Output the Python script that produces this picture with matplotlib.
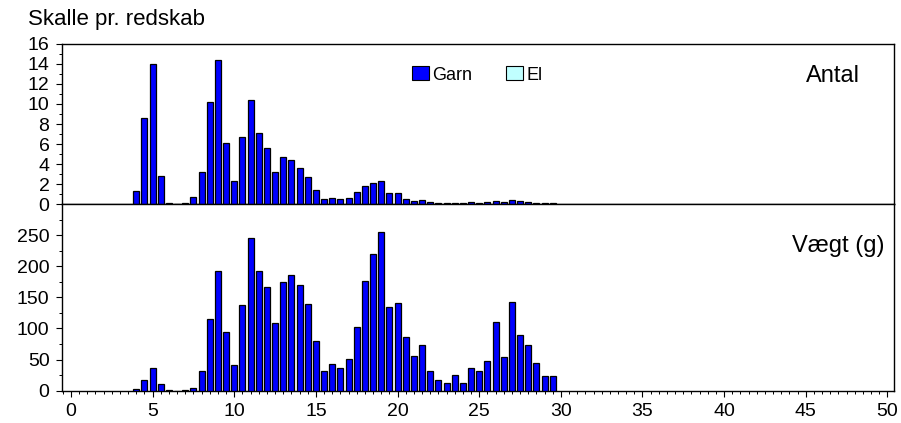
import matplotlib
matplotlib.use("Agg")
import matplotlib.pyplot as plt
from matplotlib.ticker import MultipleLocator
from matplotlib.patches import Patch

plt.rcParams['font.family'] = ['Liberation Sans', 'DejaVu Sans']

lengths = [4, 4.5, 5, 5.5, 6, 6.5, 7, 7.5, 8, 8.5, 9, 9.5, 10, 10.5, 11, 11.5,
           12, 12.5, 13, 13.5, 14, 14.5, 15, 15.5, 16, 16.5, 17, 17.5, 18, 18.5,
           19, 19.5, 20, 20.5, 21, 21.5, 22, 22.5, 23, 23.5, 24, 24.5, 25, 25.5,
           26, 26.5, 27, 27.5, 28, 28.5, 29, 29.5]

antal_garn = [1.3, 8.6, 14.0, 2.8, 0.1, 0.0, 0.1, 0.7, 3.2, 10.2, 14.4, 6.1, 2.3, 6.7, 10.4, 7.1,
              5.6, 3.2, 4.7, 4.4, 3.6, 2.75, 1.4, 0.5, 0.6, 0.5, 0.6, 1.2, 1.8, 2.1,
              2.3, 1.1, 1.1, 0.55, 0.35, 0.45, 0.2, 0.1, 0.1, 0.1, 0.1, 0.2, 0.1, 0.2,
              0.35, 0.2, 0.45, 0.3, 0.2, 0.1, 0.1, 0.1]

vaegt_garn = [2, 17, 37, 10, 0.5, 0, 0.5, 5, 31, 116, 193, 95, 41, 137, 245, 192,
              166, 108, 175, 186, 170, 139, 80, 31, 43, 37, 51, 102, 177, 220,
              255, 135, 141, 87, 56, 74, 32, 17, 12, 26, 13, 36, 31, 48,
              110, 54, 142, 90, 73, 44, 23, 24]

legend_labels = ["Garn", "El"]
panel_labels = ["Antal", "Vægt (g)"]
title = "Skalle pr. redskab"

garn_color = "#0000FF"
el_color = "#C0FFFF"

fig = plt.figure(figsize=(9.01, 4.23), dpi=100)
ax1 = fig.add_axes([0.0688, 0.5177, 0.9234, 0.3783])
ax2 = fig.add_axes([0.0688, 0.0764, 0.9234, 0.4413])

for ax, vals, ymax, minor, yt in [
        (ax1, antal_garn, 16, 1, range(0, 17, 2)),
        (ax2, vaegt_garn, 300, 25, range(0, 251, 50))]:
    ax.bar(lengths, vals, width=0.37, color=garn_color, edgecolor="black",
           linewidth=0.9, zorder=3)
    ax.set_xlim(-0.55, 50.4)
    ax.set_ylim(0, ymax)
    ax.set_yticks(list(yt))
    ax.yaxis.set_minor_locator(MultipleLocator(minor))
    ax.xaxis.set_major_locator(MultipleLocator(5))
    ax.xaxis.set_minor_locator(MultipleLocator(0.5))
    ax.tick_params(axis='both', which='major', direction='out', length=4,
                   width=0.8, labelsize=14, colors='black', pad=5)
    ax.tick_params(axis='both', which='minor', direction='out', length=2.2,
                   width=0.7)
    for s in ax.spines.values():
        s.set_linewidth(1.0)
        s.set_color("black")

ax1.tick_params(axis='x', which='both', labelbottom=False)

ax1.text(0.959, 0.761, panel_labels[0], transform=ax1.transAxes, ha='right',
         va='baseline', fontsize=17)
ax2.text(0.989, 0.741, panel_labels[1], transform=ax2.transAxes, ha='right',
         va='baseline', fontsize=17)

handles = [Patch(facecolor=garn_color, edgecolor='black', linewidth=0.8),
           Patch(facecolor=el_color, edgecolor='black', linewidth=0.8)]
fig.legend(handles, legend_labels, loc='center left',
           bbox_to_anchor=(412 / 901, 1 - 75 / 423),
           ncol=2, frameon=False, fontsize=13, handlelength=0.95,
           handleheight=0.8, handletextpad=0.15, columnspacing=1.9,
           borderpad=0, borderaxespad=0)

fig.text(28 / 901, 1 - 25 / 423, title, fontsize=16, ha='left', va='baseline')

fig.savefig("out.png", dpi=100)
